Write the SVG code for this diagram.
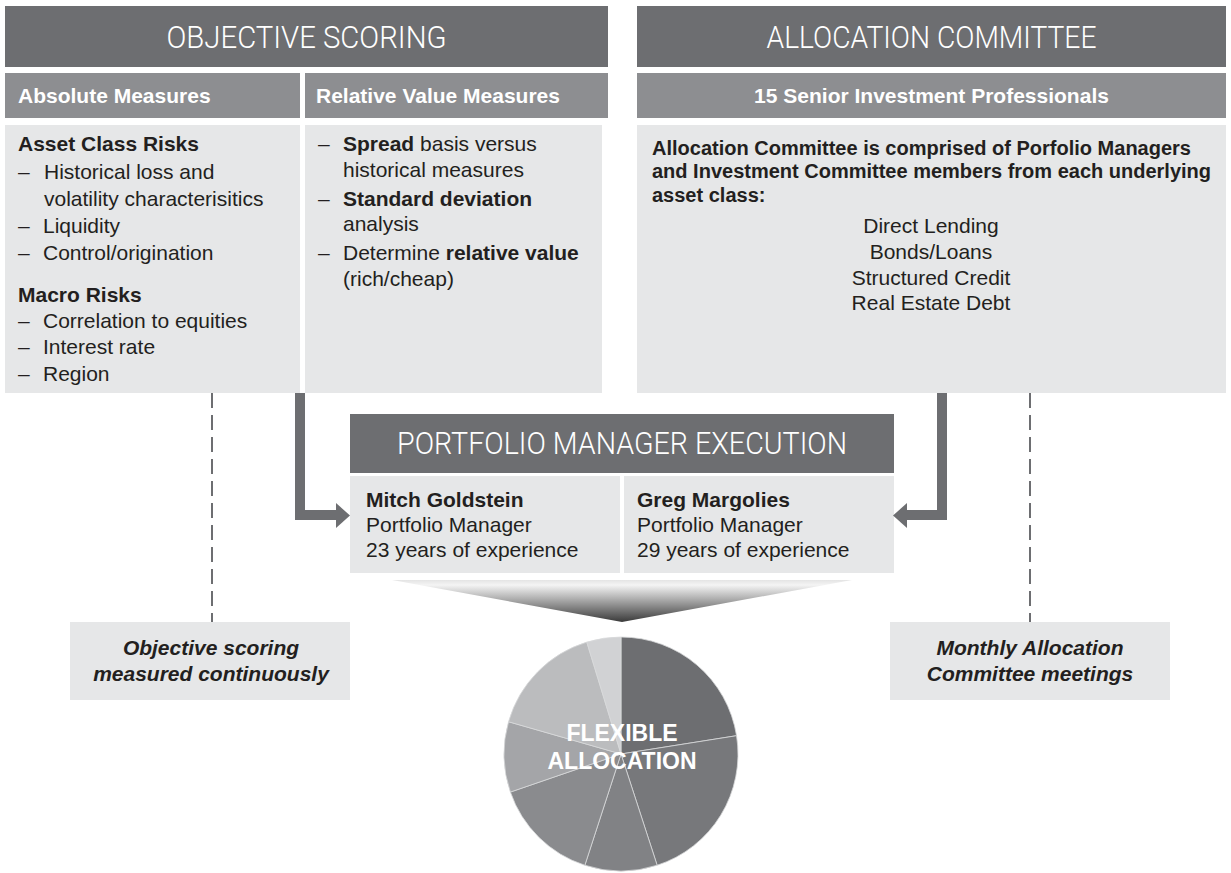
<svg xmlns="http://www.w3.org/2000/svg" width="1231" height="873" viewBox="0 0 1231 873">
<style>
text{font-family:"Liberation Sans",Arial,Helvetica,sans-serif;fill:#231f20}
.hd{fill:#6d6e71}
.sh{fill:#8d8e91}
.lt{fill:#e6e7e8}
.ht{font-family:Roboto,"Liberation Sans",Arial,sans-serif;font-weight:300;font-size:32px;fill:#ffffff;text-anchor:middle}
.st{font-size:21px;font-weight:bold;fill:#ffffff}
.b{font-size:21px}
.bb{font-weight:bold}
.rb{font-size:20px;font-weight:bold}
.c{text-anchor:middle}
.lab{font-size:21px;font-weight:bold;font-style:italic;text-anchor:middle}
.dash{stroke:#6d6e71;stroke-width:2;stroke-dasharray:15 7;fill:none}
.arr{stroke:#6d6e71;stroke-width:10;fill:none}
.ah{fill:#6d6e71}
.pie path{stroke:#d8d9da;stroke-width:0.8}
</style>
<defs>
<linearGradient id="fg" x1="0" y1="0" x2="0" y2="1">
<stop offset="0" stop-color="#e4e4e4"/>
<stop offset="0.12" stop-color="#f4f4f4"/>
<stop offset="1" stop-color="#3a3a3a"/>
</linearGradient>
</defs>
<rect width="1231" height="873" fill="#ffffff"/>

<g id="objective-scoring">
<rect class="hd" x="5" y="6" width="603" height="61"/>
<text class="ht" x="306.5" y="48" textLength="280" lengthAdjust="spacingAndGlyphs">OBJECTIVE SCORING</text>
</g>

<g id="absolute-measures">
<rect class="sh" x="5" y="73" width="295" height="45"/>
<text class="st" x="18" y="103">Absolute Measures</text>
<rect class="lt" x="5" y="125" width="295" height="268"/>
<text class="b bb" x="18" y="151">Asset Class Risks</text>
<text class="b" x="18" y="179">–</text><text class="b" x="44" y="179">Historical loss and</text>
<text class="b" x="44" y="206">volatility characterisitics</text>
<text class="b" x="18" y="233">–</text><text class="b" x="43" y="233">Liquidity</text>
<text class="b" x="18" y="260">–</text><text class="b" x="43" y="260">Control/origination</text>
<text class="b bb" x="18" y="302">Macro Risks</text>
<text class="b" x="18" y="328">–</text><text class="b" x="43" y="328">Correlation to equities</text>
<text class="b" x="18" y="354">–</text><text class="b" x="43" y="354">Interest rate</text>
<text class="b" x="18" y="381">–</text><text class="b" x="43" y="381">Region</text>
</g>

<g id="relative-value-measures">
<rect class="sh" x="305" y="73" width="303" height="45"/>
<text class="st" x="316" y="103">Relative Value Measures</text>
<rect class="lt" x="305" y="125" width="297" height="268"/>
<text class="b" x="318" y="151">–</text><text class="b" x="343" y="151"><tspan class="bb">Spread</tspan> basis versus</text>
<text class="b" x="343" y="177">historical measures</text>
<text class="b" x="318" y="206">–</text><text class="b bb" x="343" y="206">Standard deviation</text>
<text class="b" x="343" y="231">analysis</text>
<text class="b" x="318" y="260">–</text><text class="b" x="343" y="260">Determine <tspan class="bb">relative value</tspan></text>
<text class="b" x="343" y="286">(rich/cheap)</text>
</g>

<g id="allocation-committee">
<rect class="hd" x="637" y="6" width="589" height="61"/>
<text class="ht" x="931.5" y="48" textLength="330" lengthAdjust="spacingAndGlyphs">ALLOCATION COMMITTEE</text>
<rect class="sh" x="637" y="73" width="589" height="45"/>
<text class="st c" x="931.5" y="103">15 Senior Investment Professionals</text>
<rect class="lt" x="637" y="125" width="589" height="268"/>
<text class="rb" x="652" y="155">Allocation Committee is comprised of Porfolio Managers</text>
<text class="rb" x="652" y="178">and Investment Committee members from each underlying</text>
<text class="rb" x="652" y="202">asset class:</text>
<text class="b c" x="931" y="233">Direct Lending</text>
<text class="b c" x="931" y="259">Bonds/Loans</text>
<text class="b c" x="931" y="285">Structured Credit</text>
<text class="b c" x="931" y="310">Real Estate Debt</text>
</g>

<g id="portfolio-manager-execution">
<rect class="hd" x="350" y="414" width="544" height="59"/>
<text class="ht" x="622" y="454" textLength="450" lengthAdjust="spacingAndGlyphs">PORTFOLIO MANAGER EXECUTION</text>
</g>
<g id="mitch-goldstein">
<rect class="lt" x="350" y="476" width="270" height="97"/>
<text class="b bb" x="366" y="507">Mitch Goldstein</text>
<text class="b" x="366" y="532">Portfolio Manager</text>
<text class="b" x="366" y="557">23 years of experience</text>
</g>
<g id="greg-margolies">
<rect class="lt" x="624" y="476" width="270" height="97"/>
<text class="b bb" x="637" y="507">Greg Margolies</text>
<text class="b" x="637" y="532">Portfolio Manager</text>
<text class="b" x="637" y="557">29 years of experience</text>
</g>

<g id="funnel">
<polygon points="392,580 852,580 622,622" fill="url(#fg)"/>
</g>

<g id="flexible-allocation" class="pie">
<path d="M621,754 L621,637 A117,117 0 0 1 736.56,735.70 Z" fill="#6d6e71"/>
<path d="M621,754 L736.56,735.70 A117,117 0 0 1 657.15,865.28 Z" fill="#77787b"/>
<path d="M621,754 L657.15,865.28 A117,117 0 0 1 584.85,865.28 Z" fill="#818285"/>
<path d="M621,754 L584.85,865.28 A117,117 0 0 1 510.38,792.09 Z" fill="#8a8b8e"/>
<path d="M621,754 L510.38,792.09 A117,117 0 0 1 508.53,721.75 Z" fill="#a4a5a8"/>
<path d="M621,754 L508.53,721.75 A117,117 0 0 1 586.79,642.11 Z" fill="#bbbcbe"/>
<path d="M621,754 L586.79,642.11 A117,117 0 0 1 621,637 Z" fill="#d1d2d4"/>
<text x="622" y="741" style="font-size:23px;font-weight:bold;fill:#ffffff;text-anchor:middle">FLEXIBLE</text>
<text x="622" y="769" style="font-size:23px;font-weight:bold;fill:#ffffff;text-anchor:middle">ALLOCATION</text>
</g>

<g id="label-objective">
<rect class="lt" x="70" y="622" width="280" height="78"/>
<text class="lab" x="211" y="655">Objective scoring</text>
<text class="lab" x="211" y="681">measured continuously</text>
</g>
<g id="label-monthly">
<rect class="lt" x="890" y="622" width="280" height="78"/>
<text class="lab" x="1030" y="655">Monthly Allocation</text>
<text class="lab" x="1030" y="681">Committee meetings</text>
</g>

<g id="connectors">
<line class="dash" x1="212" y1="393" x2="212" y2="622"/>
<line class="dash" x1="1030" y1="393" x2="1030" y2="622"/>
<polyline class="arr" points="300,393 300,515 338,515"/>
<polygon class="ah" points="336,503 350,515.5 336,528"/>
<polyline class="arr" points="942,393 942,515 906,515"/>
<polygon class="ah" points="907,503 893,515.5 907,528"/>
</g>
</svg>
